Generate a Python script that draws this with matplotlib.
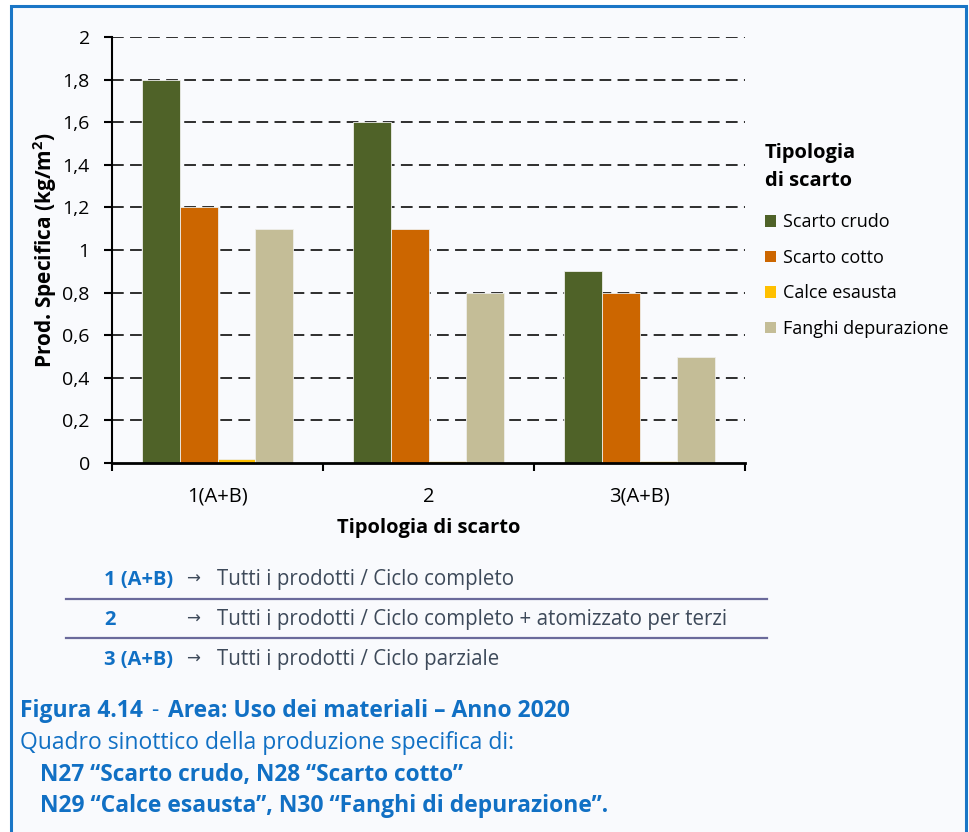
import numpy as np
import matplotlib.pyplot as plt
from matplotlib.patches import Rectangle, Patch
from matplotlib.lines import Line2D

plt.rcParams['font.family'] = ['Open Sans', 'DejaVu Sans']

W, H = 970, 832

categories = ['1(A+B)', '2', '3(A+B)']
series = ['Scarto crudo', 'Scarto cotto', 'Calce esausta', 'Fanghi depurazione']
scarto_crudo = [1.8, 1.6, 0.9]
scarto_cotto = [1.2, 1.1, 0.8]
calce_esausta = [0.02, 0.01, 0.01]
fanghi_depurazione = [1.1, 0.8, 0.5]
yticks = [0, 0.2, 0.4, 0.6, 0.8, 1.0, 1.2, 1.4, 1.6, 1.8, 2.0]
ytick_labels = ['0', '0,2', '0,4', '0,6', '0,8', '1', '1,2', '1,4', '1,6', '1,8', '2']

notes_key = ['1 (A+B)', '2', '3 (A+B)']
notes_text = ['Tutti i prodotti / Ciclo completo',
              'Tutti i prodotti / Ciclo completo + atomizzato per terzi',
              'Tutti i prodotti / Ciclo parziale']

colors = ['#4f6228', '#cc6600', '#ffc000', '#c4bd97']
blue = '#1170c4'
grey_txt = '#3e4a5a'


def px(x, y):
    return x / W, 1 - y / H


fig = plt.figure(figsize=(W / 100, H / 100), dpi=100, facecolor='white')

# panel frame
fig.patches.append(Rectangle(px(11, 900), 955 / W, 894 / H, transform=fig.transFigure,
                             facecolor='#f9fafd', edgecolor='#1a76c6', linewidth=2.2,
                             zorder=-5))

ax = fig.add_axes([112 / W, 1 - 463 / H, 633 / W, 426 / H])
ax.set_facecolor('none')

values = [scarto_crudo, scarto_cotto, calce_esausta, fanghi_depurazione]
x = np.arange(len(categories))
bw = 0.18
for i, (name, vals) in enumerate(zip(series, values)):
    ax.bar(x + (i - 1.5) * bw, vals, bw, color=colors[i], edgecolor='#eeeeea',
           linewidth=0.6, label=name, zorder=3)

ax.set_xlim(-0.5, 2.5)
ax.set_ylim(0, 2)
ax.set_yticks(yticks)
ax.set_yticklabels(ytick_labels, fontsize=14)
ax.set_xticks(x)
ax.set_xticklabels(categories, fontsize=14.5)
ax.tick_params(axis='x', length=0, pad=17)
ax.set_xticks([-0.5, 0.5, 1.5, 2.5], minor=True)
ax.tick_params(axis='x', which='minor', length=6, width=1.5, direction='out')
ax.tick_params(axis='y', length=6, width=1.5, direction='out', pad=10)
for yv in yticks[1:]:
    ax.axhline(yv, color='#1e1e1e', lw=1.3, ls=(0, (6.5, 3.5)), zorder=1)
for s in ['top', 'right']:
    ax.spines[s].set_visible(False)
ax.spines['left'].set_linewidth(1.5)
ax.spines['bottom'].set_linewidth(2)
ax.spines['bottom'].set_zorder(4)

ax.set_ylabel('Prod. Specifica (kg/m$^\\mathregular{2}$)', fontsize=15, fontweight='bold')
ax.yaxis.set_label_coords(-0.084, 0.5)
ax.set_xlabel('Tipologia di scarto', fontsize=14.5, fontweight='bold', labelpad=8)

# legend: title drawn on its own, entries below
fig.text(*px(765, 153), 'Tipologia', fontsize=14.5, fontweight='bold', va='center')
fig.text(*px(765, 181), 'di scarto', fontsize=14.5, fontweight='bold', va='center')
handles = [Patch(facecolor=c, edgecolor='none') for c in colors]
leg = fig.legend(handles, series, loc='upper left', bbox_to_anchor=px(749, 197),
                 frameon=False, fontsize=13,
                 handlelength=0.6, handleheight=0.6, handletextpad=0.4,
                 labelspacing=0.97)

# notes under the chart
rows_y = [580, 620, 660]
for key, txt, yy in zip(notes_key, notes_text, rows_y):
    fig.text(*px(104, yy), key, color=blue, fontsize=14.5, fontweight='bold', va='center')
    fig.text(*px(186, yy), '→', color=grey_txt, fontsize=12, va='center')
    fig.text(*px(217, yy), txt, color=grey_txt, fontsize=14.8, va='center')
for yy in [599, 638]:
    fig.add_artist(Line2D([66 / W, 767 / W], [1 - yy / H] * 2, color='#6b6a9b', lw=1.6))

# caption
fig.text(*px(20, 711), 'Figura 4.14', color=blue, fontsize=16.5, fontweight='bold', va='center')
fig.text(*px(151, 711), '-', color=blue, fontsize=16.5, va='center')
fig.text(*px(168, 711), 'Area: Uso dei materiali – Anno 2020', color=blue, fontsize=16.5,
         fontweight='bold', va='center')
fig.text(*px(20, 743), 'Quadro sinottico della produzione specifica di:', color=blue,
         fontsize=16.5, va='center')
fig.text(*px(40, 775), 'N27 “Scarto crudo, N28 “Scarto cotto”', color=blue, fontsize=16.3,
         fontweight='bold', va='center')
fig.text(*px(40, 806), 'N29 “Calce esausta”, N30 “Fanghi di depurazione”.', color=blue,
         fontsize=16.5, fontweight='bold', va='center')

fig.savefig('out.png', dpi=100, facecolor='white')
